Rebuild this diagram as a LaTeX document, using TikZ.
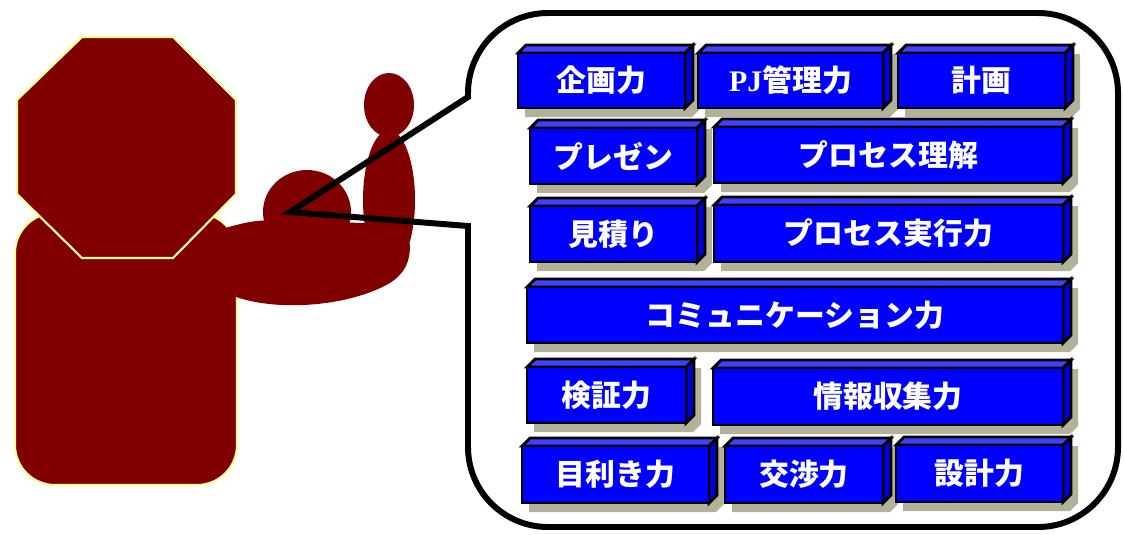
\documentclass[tikz,border=0pt]{standalone}
\usepackage{fontspec}
\newfontfamily\jpfont{Noto Sans CJK JP}
\newfontfamily\pjfont{Liberation Serif}
\usepackage{tikz}

\definecolor{figred}{HTML}{800000}
\definecolor{figedge}{HTML}{FFFF99}
\definecolor{boxfront}{HTML}{0000FF}
\definecolor{boxtop}{HTML}{4040FF}
\definecolor{boxside}{HTML}{0000D8}
\definecolor{boxshadow}{HTML}{B2B29A}

\tikzset{
  figure/.style={fill=figred},
  figure edge/.style={fill=figred, draw=figedge, line width=1.2pt},
  box face/.style={draw=black, line width=1.6pt, line join=miter},
  skill label/.style={text=white, inner sep=0pt,
    font=\jpfont\bfseries\fontsize{17pt}{20pt}\selectfont},
  bubble/.style={draw=black, line width=3.4pt, line join=miter},
}

% #1 name, (#2,#3)-(#4,#5) front face, #6 label
\newcommand{\skillbox}[6]{%
  \fill[boxshadow] (#2+7,#3+9) -- (#2+15,#3+1) -- (#4+15,#3+1) -- (#4+15,#5+1)
    -- (#4+7,#5+9) -- (#2+7,#5+9) -- cycle;
  \filldraw[box face, fill=boxtop] (#2,#3) -- (#2+8,#3-8) -- (#4+8,#3-8) -- (#4,#3) -- cycle;
  \filldraw[box face, fill=boxside] (#4,#3) -- (#4+8,#3-8) -- (#4+8,#5-8) -- (#4,#5) -- cycle;
  \filldraw[box face, fill=boxfront] (#2,#3) rectangle (#4,#5);
  \node[skill label] (#1) at ({(#2+#4)/2},{(#3+#5)/2}) {#6};
}

\begin{document}
\begin{tikzpicture}[x=0.02cm, y=-0.02cm]
  \useasboundingbox (0,0) rectangle (1124,534);

  % presenter: body, arm, hand and head
  \filldraw[figure edge, rounded corners=0.8cm] (15,213) rectangle (237,485);
  \fill[figure] (225,228) .. controls (255,220) .. (300,220) -- (400,225) -- (410,245)
    .. controls (410,262) and (405,273) .. (390,283)
    .. controls (350,306) and (280,312) .. (236,297) -- cycle;
  \fill[figure] (307,212) ellipse [x radius=44, y radius=42];
  \fill[figure] (389,200) ellipse [x radius=26, y radius=70];
  \fill[figure] (389,105) ellipse [x radius=25, y radius=32];
  \filldraw[figure edge] (82,37) -- (173,37) -- (236,100) -- (236,194)
    -- (173,258) -- (82,258) -- (17,194) -- (17,100) -- cycle;

  % speech bubble
  \coordinate (tip) at (290,212);
  \draw[bubble] (tip) -- (468,97) [rounded corners=1.6cm] -- (468,13) -- (1118,13)
    -- (1118,527) -- (468,527) [sharp corners] -- (468,226) -- cycle;

  % skills
  \skillbox{kikaku}{518}{53}{685}{108}{企画力}
  \skillbox{pjkanri}{698}{53}{883}{108}{{\pjfont\bfseries PJ}管理力}
  \skillbox{keikaku}{898}{53}{1065}{108}{計画}
  \skillbox{presen}{530}{128}{697}{184}{プレゼン}
  \skillbox{rikai}{714}{127}{1063}{183}{プロセス理解}
  \skillbox{mitsumori}{530}{206}{697}{262}{見積り}
  \skillbox{jikko}{714}{205}{1063}{262}{プロセス実行力}
  \skillbox{comm}{527}{287}{1063}{343}{コミュニケーション力}
  \skillbox{kensho}{527}{367}{686}{423}{検証力}
  \skillbox{joho}{713}{368}{1063}{425}{情報収集力}
  \skillbox{mekiki}{522}{446}{709}{503}{目利き力}
  \skillbox{kosho}{725}{446}{883}{503}{交渉力}
  \skillbox{sekkei}{896}{445}{1063}{502}{設計力}
\end{tikzpicture}
\end{document}
